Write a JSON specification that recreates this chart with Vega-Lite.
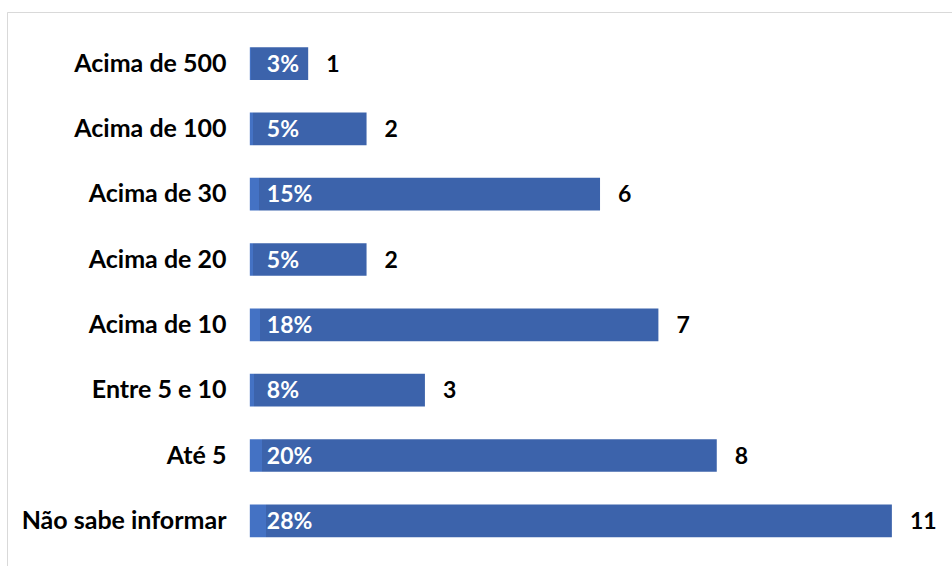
{
  "$schema": "https://vega.github.io/schema/vega-lite/v6.json",
  "autosize": {"type": "none"},
  "padding": {"left": 7, "top": 12, "right": 0, "bottom": 0},
  "width": 945,
  "height": 554,
  "background": "white",
  "config": {
    "view": {"stroke": "#d9d9d9", "strokeWidth": 1, "strokeDash": [945, 1499, 554]},
    "font": "Lato"
  },
  "data": {
    "values": [
      {"cat": "Acima de 500", "count": 1, "pct": "3%"},
      {"cat": "Acima de 100", "count": 2, "pct": "5%"},
      {"cat": "Acima de 30", "count": 6, "pct": "15%"},
      {"cat": "Acima de 20", "count": 2, "pct": "5%"},
      {"cat": "Acima de 10", "count": 7, "pct": "18%"},
      {"cat": "Entre 5 e 10", "count": 3, "pct": "8%"},
      {"cat": "Até 5", "count": 8, "pct": "20%"},
      {"cat": "Não sabe informar", "count": 11, "pct": "28%"}
    ]
  },
  "encoding": {
    "y": {
      "field": "cat",
      "type": "nominal",
      "sort": null,
      "scale": {"paddingInner": 0.5, "paddingOuter": 0.49, "align": 0.55},
      "axis": {
        "title": null,
        "ticks": false,
        "domain": false,
        "offset": -243,
        "labelPadding": 24,
        "labelFont": "Lato",
        "labelFontWeight": "bold",
        "labelFontSize": 25,
        "labelColor": "#000000",
        "labelLimit": 400
      }
    }
  },
  "layer": [
    {
      "mark": {
        "type": "bar",
        "fill": {
          "gradient": "linear",
          "x1": 0, "x2": 1, "y1": 0, "y2": 0,
          "stops": [
            {"offset": 0, "color": "#4472c4"},
            {"offset": 0.025, "color": "#4472c4"},
            {"offset": 0.026, "color": "#3c63ab"},
            {"offset": 1, "color": "#3c63ab"}
          ]
        }
      },
      "encoding": {
        "x": {
          "field": "count",
          "type": "quantitative",
          "scale": {"domain": [-4.16, 12.03], "nice": false, "zero": false},
          "axis": null
        }
      }
    },
    {
      "mark": {"type": "text", "align": "left", "baseline": "middle", "dx": 17, "dy": 1, "color": "white", "fontWeight": "bold", "fontSize": 23, "font": "Lato"},
      "encoding": {
        "x": {"datum": 0, "type": "quantitative"},
        "text": {"field": "pct"}
      }
    },
    {
      "mark": {"type": "text", "align": "left", "baseline": "middle", "dx": 18, "dy": 1, "color": "black", "fontWeight": "bold", "fontSize": 23, "font": "Lato"},
      "encoding": {
        "x": {"field": "count", "type": "quantitative"},
        "text": {"field": "count"}
      }
    }
  ]
}
